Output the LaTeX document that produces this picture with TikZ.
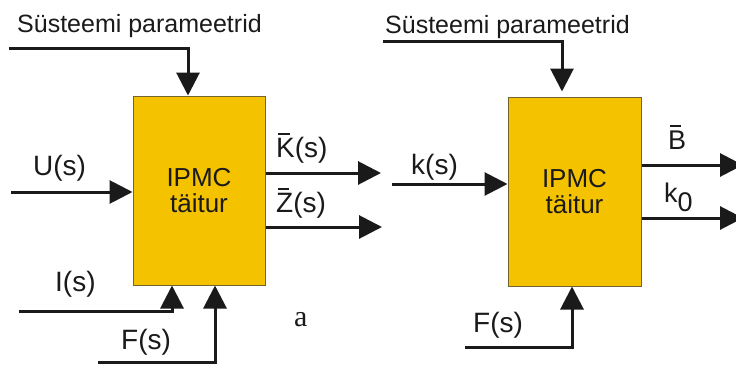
\documentclass[tikz,border=0pt]{standalone}
\usepackage{fontspec}
\setmainfont{Liberation Sans}
\newfontfamily\serifa{Liberation Serif}
\usetikzlibrary{arrows.meta}
\definecolor{boxcolor}{RGB}{245,194,0}
\definecolor{boxedge}{RGB}{115,100,45}
\definecolor{linecolor}{RGB}{26,26,26}
\tikzset{
  actbox/.style={draw=boxedge, line width=1pt, fill=boxcolor,
    minimum width=132pt, minimum height=189pt, inner sep=0pt,
    align=center, text=linecolor, font=\fontsize{26}{26}\selectfont},
  sig/.style={draw=linecolor, line width=3pt, line join=miter,
    -{Triangle[length=23pt,width=23pt]}},
  siglabel/.style={anchor=base west, inner sep=0pt, text=linecolor,
    font=\fontsize{28}{30}\selectfont},
  paramlabel/.style={siglabel, font=\fontsize{25}{30}\selectfont},
  outlabel/.style={siglabel, font=\fontsize{27}{30}\selectfont},
}
% short bar over the first letter of a signal name
\newcommand{\sigbar}[1]{{\setbox0\hbox{#1}%
  \rlap{\raisebox{\dimexpr\ht0+3pt\relax}{\hbox to \wd0{\hspace{0.1\wd0}\rule{0.62\wd0}{2pt}\hss}}}\box0}}
\newcommand{\subzero}{\raisebox{-9pt}{0}}

\begin{document}
\begin{tikzpicture}[x=1pt, y=-1pt]
  \clip (0,0) rectangle (736,365);

  % left actuator
  \node[actbox] (act1) at (199,190.5) {IPMC\\t\"aitur};
  \node[paramlabel] (par1) at (17,32) {S\"usteemi parameetrid};
  \coordinate (p1) at (9,48);
  \draw[sig] (p1) -| ([xshift=-11pt]act1.north);

  \node[siglabel] (lblu) at (33,175) {U(s)};
  \coordinate (u1) at (11,192);
  \draw[sig] (u1) -- (u1 -| act1.west);

  \node[siglabel] (lblk) at (276,157) {\sigbar{K}(s)};
  \coordinate (k1) at (381,173);
  \draw[sig] (k1 -| act1.east) -- (k1);

  \node[siglabel] (lblz) at (276,212) {\sigbar{Z}(s)};
  \coordinate (z1) at (382,227);
  \draw[sig] (z1 -| act1.east) -- (z1);

  \node[siglabel] (lbli) at (55,291) {I(s)};
  \coordinate (i1) at (19,311);
  \draw[sig] (i1) -| ([xshift=-27pt]act1.south);

  \node[siglabel] (lblf) at (121,349) {F(s)};
  \coordinate (f1) at (98,362);
  \draw[sig] (f1) -| ([xshift=16pt]act1.south);

  \node[anchor=base west, inner sep=0pt, text=linecolor,
    font=\serifa\fontsize{30}{30}\selectfont] (lbla) at (294,326) {a};

  % right actuator
  \node[actbox, minimum width=133pt] (act2) at (574.5,191.5) {IPMC\\t\"aitur};
  \node[paramlabel] (par2) at (385,33) {S\"usteemi parameetrid};
  \coordinate (p2) at (383,41);
  \draw[sig, shorten >=5pt] (p2) -| ([xshift=-12.5pt]act2.north);

  \node[siglabel] (lblk2) at (411,174) {k(s)};
  \coordinate (k2) at (392,184);
  \draw[sig] (k2) -- (k2 -| act2.west);

  \node[outlabel] (lblb) at (668,149) {\sigbar{B}};
  \coordinate (b2) at (743,165);
  \draw[sig] (b2 -| act2.east) -- (b2);

  \node[outlabel] (lblk0) at (664,202) {k\subzero};
  \coordinate (o2) at (743,218);
  \draw[sig] (o2 -| act2.east) -- (o2);

  \node[siglabel] (lblf2) at (473,332) {F(s)};
  \coordinate (f2) at (465,347);
  \draw[sig] (f2) -| ([xshift=-2.5pt]act2.south);
\end{tikzpicture}
\end{document}
